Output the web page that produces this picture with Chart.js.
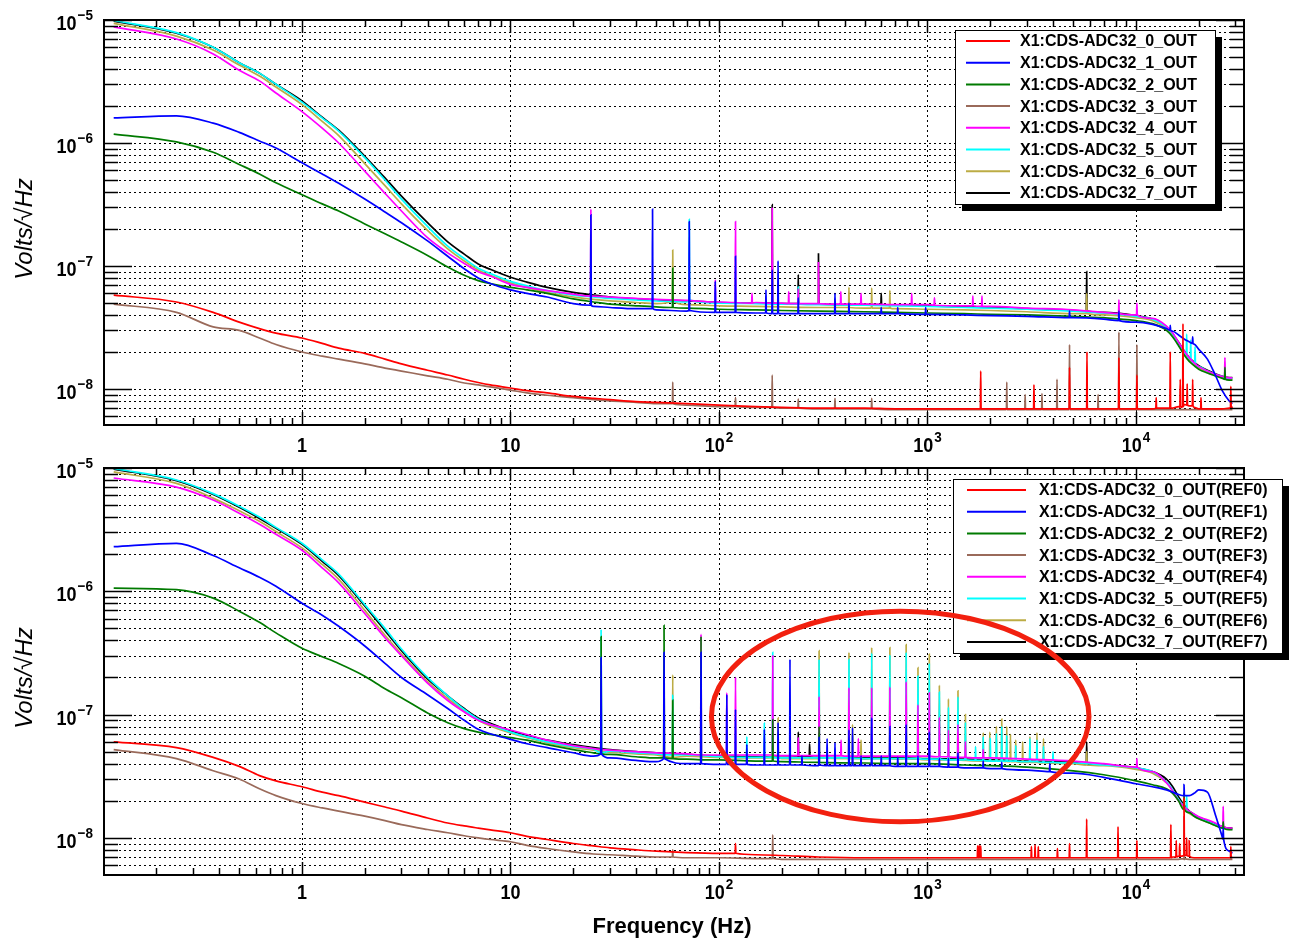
<!DOCTYPE html>
<html>
<head>
<meta charset="utf-8">
<script src="https://cdn.jsdelivr.net/npm/chart.js@4.4.1/dist/chart.umd.min.js"></script>
<style>
  body { margin: 0; background: #fff; }
  #wrap { position: relative; width: 1298px; height: 940px; }
  canvas { position: absolute; left: 0; }
</style>
</head>
<body>
<div id="wrap">
  <canvas id="topChart" width="1298" height="455" style="top:0px"></canvas>
  <canvas id="bottomChart" width="1298" height="485" style="top:455px"></canvas>
</div>
<script>
// frequency grid (Hz) shared by every base curve
const freqHz = [
  0.125, 0.25, 0.375, 0.5, 0.625, 0.75,
  1, 1.25, 1.5, 2, 2.5, 3,
  4, 5, 6, 7, 8,
  10, 12, 15, 20, 25, 30,
  40, 50, 70,
  100, 150, 200, 300, 500, 700,
  1000, 1500, 2000, 3000, 5000, 7000,
  10000, 12000, 14000, 15000, 16000, 17000, 18000, 19000, 20000,
  22000, 24000, 26000, 28000, 29000
];

const channelNames = [
  'X1:CDS-ADC32_0_OUT', 'X1:CDS-ADC32_1_OUT', 'X1:CDS-ADC32_2_OUT', 'X1:CDS-ADC32_3_OUT',
  'X1:CDS-ADC32_4_OUT', 'X1:CDS-ADC32_5_OUT', 'X1:CDS-ADC32_6_OUT', 'X1:CDS-ADC32_7_OUT'
];
const refNames = [
  'X1:CDS-ADC32_0_OUT(REF0)', 'X1:CDS-ADC32_1_OUT(REF1)', 'X1:CDS-ADC32_2_OUT(REF2)', 'X1:CDS-ADC32_3_OUT(REF3)',
  'X1:CDS-ADC32_4_OUT(REF4)', 'X1:CDS-ADC32_5_OUT(REF5)', 'X1:CDS-ADC32_6_OUT(REF6)', 'X1:CDS-ADC32_7_OUT(REF7)'
];
const channelColors = ['#ff0000', '#0000ff', '#007a00', '#9a6a5a', '#ff00ff', '#00ffff', '#bcac45', '#000000'];

const xDecades = [1, 10, 100, 1000, 10000];
const xTickBase = ['1', '10', '10', '10', '10'];
const xTickExp = ['', '', '2', '3', '4'];
const yDecades = [1e-5, 1e-6, 1e-7, 1e-8];
const yTickExp = ['\u22125', '\u22126', '\u22127', '\u22128'];

// ---- top panel: live channels ----
const topCh0 = [
  5.8e-8, 5.1e-8, 4.2e-8, 3.5e-8, 3.1e-8, 2.85e-8,
  2.6e-8, 2.35e-8, 2.15e-8, 1.95e-8, 1.75e-8, 1.6e-8,
  1.42e-8, 1.3e-8, 1.2e-8, 1.13e-8, 1.08e-8,
  1.02e-8, 9.7e-9, 9.3e-9, 8.7e-9, 8.4e-9, 8.2e-9,
  7.9e-9, 7.8e-9, 7.6e-9,
  7.4e-9, 7.2e-9, 7.1e-9, 7.0e-9, 7.0e-9, 6.9e-9,
  6.9e-9, 6.9e-9, 6.9e-9, 6.9e-9, 6.9e-9, 6.9e-9,
  6.9e-9, 6.9e-9, 7.0e-9, 7.0e-9, 7.2e-9, 7.5e-9, 7.3e-9, 7.1e-9, 6.9e-9,
  6.9e-9, 6.9e-9, 6.9e-9, 7.0e-9, 7.2e-9
];
const topCh1 = [
  1.6e-6, 1.66e-6, 1.45e-6, 1.22e-6, 1.04e-6, 9.1e-7,
  6.9e-7, 5.6e-7, 4.7e-7, 3.5e-7, 2.75e-7, 2.25e-7,
  1.6e-7, 1.2e-7, 9.5e-8, 8.0e-8, 7.2e-8,
  6.4e-8, 6.0e-8, 5.6e-8, 4.95e-8, 4.7e-8, 4.6e-8,
  4.5e-8, 4.4e-8, 4.3e-8,
  4.2e-8, 4.15e-8, 4.1e-8, 4.1e-8, 4.1e-8, 4.1e-8,
  4.05e-8, 4.0e-8, 3.95e-8, 3.9e-8, 3.8e-8, 3.7e-8,
  3.5e-8, 3.35e-8, 3.1e-8, 2.95e-8, 2.75e-8, 2.55e-8, 2.42e-8, 2.32e-8, 2.1e-8,
  1.75e-8, 1.3e-8, 9.6e-9, 8.0e-9, 7.6e-9
];
const topCh2 = [
  1.18e-6, 1.02e-6, 8.4e-7, 6.7e-7, 5.6e-7, 4.75e-7,
  3.8e-7, 3.2e-7, 2.8e-7, 2.2e-7, 1.83e-7, 1.57e-7,
  1.22e-7, 9.8e-8, 8.4e-8, 7.6e-8, 7.2e-8,
  6.7e-8, 6.4e-8, 6.0e-8, 5.4e-8, 5.1e-8, 4.9e-8,
  4.75e-8, 4.65e-8, 4.55e-8,
  4.45e-8, 4.4e-8, 4.35e-8, 4.3e-8, 4.25e-8, 4.2e-8,
  4.15e-8, 4.1e-8, 4.05e-8, 4.0e-8, 3.9e-8, 3.8e-8,
  3.6e-8, 3.4e-8, 3.0e-8, 2.65e-8, 2.25e-8, 1.9e-8, 1.68e-8, 1.55e-8, 1.45e-8,
  1.35e-8, 1.28e-8, 1.22e-8, 1.18e-8, 1.18e-8
];
const topCh3 = [
  4.9e-8, 4.2e-8, 3.2e-8, 3.0e-8, 2.6e-8, 2.3e-8,
  2.0e-8, 1.85e-8, 1.75e-8, 1.6e-8, 1.48e-8, 1.4e-8,
  1.28e-8, 1.2e-8, 1.12e-8, 1.08e-8, 1.04e-8,
  9.8e-9, 9.3e-9, 8.9e-9, 8.5e-9, 8.2e-9, 8.0e-9,
  7.8e-9, 7.6e-9, 7.4e-9,
  7.2e-9, 7.1e-9, 7.0e-9, 6.9e-9, 6.9e-9, 6.8e-9,
  6.8e-9, 6.8e-9, 6.8e-9, 6.8e-9, 6.8e-9, 6.8e-9,
  6.8e-9, 6.8e-9, 6.8e-9, 6.8e-9, 6.8e-9, 6.8e-9, 6.8e-9, 6.8e-9, 6.8e-9,
  6.8e-9, 6.8e-9, 6.8e-9, 6.8e-9, 6.8e-9
];
const topCh4 = [
  8.8e-6, 7.0e-6, 5.3e-6, 3.9e-6, 3.2e-6, 2.55e-6,
  1.8e-6, 1.32e-6, 1.0e-6, 5.9e-7, 3.9e-7, 2.8e-7,
  1.7e-7, 1.28e-7, 1.05e-7, 9.0e-8, 8.3e-8,
  7.1e-8, 6.7e-8, 6.3e-8, 5.9e-8, 5.7e-8, 5.6e-8,
  5.45e-8, 5.35e-8, 5.25e-8,
  5.1e-8, 5.05e-8, 5.0e-8, 4.95e-8, 4.9e-8, 4.85e-8,
  4.85e-8, 4.75e-8, 4.7e-8, 4.55e-8, 4.4e-8, 4.2e-8,
  4.0e-8, 3.75e-8, 3.25e-8, 2.85e-8, 2.4e-8, 2.05e-8, 1.8e-8, 1.63e-8, 1.52e-8,
  1.4e-8, 1.32e-8, 1.26e-8, 1.23e-8, 1.23e-8
];
const topCh5 = [
  9.9e-6, 7.9e-6, 6.0e-6, 4.5e-6, 3.7e-6, 3.0e-6,
  2.15e-6, 1.6e-6, 1.25e-6, 7.6e-7, 5.0e-7, 3.5e-7,
  2.1e-7, 1.45e-7, 1.15e-7, 9.6e-8, 8.7e-8,
  7.5e-8, 6.9e-8, 6.3e-8, 5.8e-8, 5.6e-8, 5.45e-8,
  5.3e-8, 5.2e-8, 5.1e-8,
  5.0e-8, 4.95e-8, 4.9e-8, 4.85e-8, 4.8e-8, 4.75e-8,
  4.7e-8, 4.6e-8, 4.55e-8, 4.45e-8, 4.3e-8, 4.15e-8,
  3.9e-8, 3.7e-8, 3.2e-8, 2.8e-8, 2.35e-8, 2.0e-8, 1.78e-8, 1.62e-8, 1.52e-8,
  1.4e-8, 1.32e-8, 1.26e-8, 1.22e-8, 1.22e-8
];
const topCh6 = [
  9.4e-6, 7.4e-6, 5.7e-6, 4.3e-6, 3.5e-6, 2.85e-6,
  2.05e-6, 1.5e-6, 1.15e-6, 6.8e-7, 4.5e-7, 3.2e-7,
  1.95e-7, 1.38e-7, 1.1e-7, 9.3e-8, 8.4e-8,
  7.3e-8, 6.7e-8, 6.1e-8, 5.6e-8, 5.35e-8, 5.2e-8,
  5.05e-8, 4.95e-8, 4.85e-8,
  4.75e-8, 4.7e-8, 4.65e-8, 4.6e-8, 4.55e-8, 4.5e-8,
  4.45e-8, 4.4e-8, 4.35e-8, 4.25e-8, 4.1e-8, 4.0e-8,
  3.8e-8, 3.6e-8, 3.1e-8, 2.7e-8, 2.3e-8, 1.95e-8, 1.72e-8, 1.58e-8, 1.48e-8,
  1.37e-8, 1.3e-8, 1.24e-8, 1.2e-8, 1.2e-8
];
const topCh7 = [
  9.8e-6, 7.8e-6, 6.0e-6, 4.5e-6, 3.7e-6, 3.0e-6,
  2.2e-6, 1.62e-6, 1.27e-6, 7.8e-7, 5.2e-7, 3.7e-7,
  2.25e-7, 1.57e-7, 1.25e-7, 1.04e-7, 9.4e-8,
  8.1e-8, 7.4e-8, 6.7e-8, 6.1e-8, 5.8e-8, 5.6e-8,
  5.4e-8, 5.3e-8, 5.2e-8,
  5.05e-8, 5.0e-8, 4.95e-8, 4.9e-8, 4.85e-8, 4.8e-8,
  4.75e-8, 4.65e-8, 4.6e-8, 4.5e-8, 4.35e-8, 4.2e-8,
  3.95e-8, 3.7e-8, 3.2e-8, 2.8e-8, 2.4e-8, 2.05e-8, 1.8e-8, 1.65e-8, 1.55e-8,
  1.42e-8, 1.33e-8, 1.27e-8, 1.24e-8, 1.24e-8
];

// spikes: [frequency, foot level, peak level]
const topSpikes0 = [
  [1800, 6.9e-9, 1.4e-8], [3240, 6.9e-9, 1.08e-8], [4800, 6.9e-9, 1.5e-8], [5820, 6.9e-9, 2.0e-8],
  [8280, 6.9e-9, 1.8e-8], [10100, 6.9e-9, 1.3e-8], [12500, 7.0e-9, 8.5e-9], [14600, 7.0e-9, 2.0e-8],
  [16300, 7.1e-9, 1.2e-8], [16800, 7.2e-9, 3.4e-8], [17600, 7.4e-9, 1.1e-8], [18700, 7.3e-9, 1.2e-8],
  [20500, 6.9e-9, 8.5e-9], [28500, 7.0e-9, 1.05e-8]
];
const topSpikes1 = [
  [24.3, 4.8e-8, 2.6e-7], [48, 4.5e-8, 2.9e-7], [72, 4.35e-8, 2.3e-7], [96, 4.2e-8, 7.5e-8],
  [120, 4.2e-8, 1.2e-7], [168, 4.15e-8, 6.4e-8], [180, 4.1e-8, 9.3e-8], [192, 4.1e-8, 1.1e-7],
  [240, 4.1e-8, 5.5e-8], [360, 4.1e-8, 6.0e-8], [420, 4.1e-8, 5.0e-8], [600, 4.1e-8, 4.6e-8],
  [720, 4.1e-8, 4.6e-8], [980, 4.05e-8, 4.6e-8], [4800, 3.8e-8, 4.3e-8], [8280, 3.6e-8, 4.3e-8],
  [14600, 3.0e-8, 3.3e-8], [18700, 2.35e-8, 2.65e-8]
];
const topSpikes2 = [[60, 4.6e-8, 9.6e-8], [26700, 1.2e-8, 1.5e-8]];
const topSpikes3 = [
  [60, 7.6e-9, 1.14e-8], [120, 7.2e-9, 8.5e-9], [180, 7.1e-9, 1.3e-8], [240, 7.0e-9, 8.3e-9],
  [360, 6.9e-9, 8.4e-9], [540, 6.9e-9, 8.4e-9], [2400, 6.8e-9, 1.14e-8], [2940, 6.8e-9, 9.0e-9],
  [3540, 6.8e-9, 9.2e-9], [4180, 6.8e-9, 1.2e-8], [4800, 6.8e-9, 2.3e-8], [6580, 6.8e-9, 9.0e-9],
  [8280, 6.8e-9, 2.9e-8], [10100, 6.8e-9, 2.3e-8]
];
const topSpikes4 = [
  [24.3, 5.7e-8, 2.9e-7], [96, 5.1e-8, 7.7e-8], [120, 5.05e-8, 2.3e-7], [144, 5.0e-8, 6.0e-8],
  [180, 5.0e-8, 3.0e-7], [216, 4.95e-8, 6.2e-8], [240, 4.95e-8, 6.5e-8], [300, 4.95e-8, 1.08e-7],
  [384, 4.9e-8, 6.2e-8], [480, 4.9e-8, 6.0e-8], [840, 4.85e-8, 6.0e-8], [1080, 4.8e-8, 5.5e-8],
  [1650, 4.75e-8, 5.7e-8], [1825, 4.7e-8, 5.7e-8], [8280, 4.1e-8, 5.3e-8], [10100, 4.0e-8, 5.0e-8],
  [26700, 1.26e-8, 1.8e-8]
];
const topSpikes5 = [
  [72, 5.3e-8, 2.4e-7], [240, 4.9e-8, 6.8e-8], [17500, 1.9e-8, 2.8e-8], [18300, 1.75e-8, 2.5e-8],
  [19200, 1.62e-8, 2.2e-8]
];
const topSpikes6 = [
  [60, 5.2e-8, 1.35e-7], [420, 4.6e-8, 6.7e-8], [540, 4.55e-8, 6.6e-8], [660, 4.55e-8, 6.3e-8],
  [5800, 4.1e-8, 6.0e-8]
];
const topSpikes7 = [
  [180, 5.0e-8, 3.15e-7], [240, 4.95e-8, 8.5e-8], [300, 4.9e-8, 1.27e-7], [600, 4.85e-8, 6.0e-8],
  [5800, 4.3e-8, 9.0e-8]
];

// ---- bottom panel: reference traces ----
const botCh0 = [
  6.0e-8, 5.4e-8, 4.5e-8, 3.8e-8, 3.2e-8, 2.9e-8,
  2.6e-8, 2.35e-8, 2.2e-8, 1.95e-8, 1.78e-8, 1.65e-8,
  1.45e-8, 1.32e-8, 1.25e-8, 1.2e-8, 1.16e-8,
  1.1e-8, 1.03e-8, 9.7e-9, 9.0e-9, 8.6e-9, 8.3e-9,
  8.0e-9, 7.8e-9, 7.6e-9,
  7.5e-9, 7.3e-9, 7.2e-9, 7.0e-9, 6.9e-9, 6.9e-9,
  6.9e-9, 6.9e-9, 6.9e-9, 6.9e-9, 6.9e-9, 6.9e-9,
  6.9e-9, 6.9e-9, 6.9e-9, 7.0e-9, 7.1e-9, 7.3e-9, 7.1e-9, 6.9e-9, 6.9e-9,
  6.9e-9, 6.9e-9, 6.9e-9, 6.9e-9, 7.0e-9
];
const botCh1 = [
  2.3e-6, 2.45e-6, 1.95e-6, 1.55e-6, 1.3e-6, 1.1e-6,
  8.0e-7, 6.4e-7, 5.2e-7, 3.6e-7, 2.6e-7, 2.0e-7,
  1.45e-7, 1.12e-7, 9.0e-8, 7.6e-8, 7.0e-8,
  6.3e-8, 5.8e-8, 5.4e-8, 4.9e-8, 4.6e-8, 4.45e-8,
  4.25e-8, 4.15e-8, 4.0e-8,
  3.95e-8, 3.9e-8, 3.9e-8, 3.85e-8, 3.85e-8, 3.8e-8,
  3.8e-8, 3.7e-8, 3.65e-8, 3.55e-8, 3.35e-8, 3.1e-8,
  2.75e-8, 2.6e-8, 2.45e-8, 2.35e-8, 2.25e-8, 2.2e-8, 2.2e-8, 2.3e-8, 2.45e-8,
  2.35e-8, 1.55e-8, 1.0e-8, 7.8e-9, 7.5e-9
];
const botCh2 = [
  1.06e-6, 1.03e-6, 8.8e-7, 6.9e-7, 5.6e-7, 4.6e-7,
  3.45e-7, 2.95e-7, 2.6e-7, 2.05e-7, 1.62e-7, 1.37e-7,
  1.03e-7, 8.6e-8, 7.7e-8, 7.2e-8, 6.9e-8,
  6.5e-8, 6.2e-8, 5.7e-8, 5.2e-8, 4.9e-8, 4.75e-8,
  4.55e-8, 4.45e-8, 4.35e-8,
  4.3e-8, 4.2e-8, 4.15e-8, 4.1e-8, 4.05e-8, 4.0e-8,
  4.0e-8, 3.9e-8, 3.85e-8, 3.75e-8, 3.5e-8, 3.25e-8,
  2.9e-8, 2.7e-8, 2.5e-8, 2.3e-8, 2.0e-8, 1.78e-8, 1.6e-8, 1.5e-8, 1.43e-8,
  1.34e-8, 1.26e-8, 1.2e-8, 1.17e-8, 1.17e-8
];
const botCh3 = [
  5.2e-8, 4.4e-8, 3.5e-8, 3.0e-8, 2.5e-8, 2.2e-8,
  1.9e-8, 1.75e-8, 1.65e-8, 1.5e-8, 1.38e-8, 1.28e-8,
  1.17e-8, 1.1e-8, 1.04e-8, 1.0e-8, 9.7e-9,
  9.3e-9, 8.7e-9, 8.2e-9, 7.7e-9, 7.4e-9, 7.3e-9,
  7.1e-9, 7.0e-9, 6.9e-9,
  6.9e-9, 6.8e-9, 6.7e-9, 6.7e-9, 6.7e-9, 6.7e-9,
  6.7e-9, 6.7e-9, 6.7e-9, 6.7e-9, 6.7e-9, 6.7e-9,
  6.7e-9, 6.7e-9, 6.7e-9, 6.7e-9, 6.7e-9, 6.7e-9, 6.7e-9, 6.7e-9, 6.7e-9,
  6.7e-9, 6.7e-9, 6.7e-9, 6.7e-9, 6.7e-9
];
const botCh4 = [
  8.3e-6, 7.0e-6, 5.5e-6, 4.3e-6, 3.5e-6, 2.9e-6,
  2.15e-6, 1.55e-6, 1.17e-6, 6.6e-7, 4.2e-7, 3.0e-7,
  1.8e-7, 1.3e-7, 1.05e-7, 9.0e-8, 8.3e-8,
  7.5e-8, 6.9e-8, 6.2e-8, 5.6e-8, 5.3e-8, 5.15e-8,
  5.0e-8, 4.9e-8, 4.8e-8,
  4.7e-8, 4.7e-8, 4.65e-8, 4.65e-8, 4.6e-8, 4.6e-8,
  4.6e-8, 4.5e-8, 4.45e-8, 4.35e-8, 4.2e-8, 4.0e-8,
  3.75e-8, 3.45e-8, 2.8e-8, 2.4e-8, 2.0e-8, 1.8e-8, 1.65e-8, 1.56e-8, 1.48e-8,
  1.4e-8, 1.32e-8, 1.24e-8, 1.2e-8, 1.2e-8
];
const botCh5 = [
  9.9e-6, 8.0e-6, 6.2e-6, 4.9e-6, 4.0e-6, 3.3e-6,
  2.45e-6, 1.8e-6, 1.38e-6, 7.8e-7, 5.0e-7, 3.4e-7,
  2.0e-7, 1.42e-7, 1.1e-7, 9.2e-8, 8.3e-8,
  7.2e-8, 6.6e-8, 6.0e-8, 5.5e-8, 5.25e-8, 5.05e-8,
  4.9e-8, 4.8e-8, 4.7e-8,
  4.55e-8, 4.5e-8, 4.45e-8, 4.45e-8, 4.4e-8, 4.4e-8,
  4.35e-8, 4.3e-8, 4.25e-8, 4.15e-8, 4.05e-8, 3.9e-8,
  3.7e-8, 3.45e-8, 2.85e-8, 2.45e-8, 2.05e-8, 1.8e-8, 1.62e-8, 1.52e-8, 1.45e-8,
  1.36e-8, 1.28e-8, 1.21e-8, 1.17e-8, 1.17e-8
];
const botCh6 = [
  9.3e-6, 7.5e-6, 5.7e-6, 4.5e-6, 3.7e-6, 3.05e-6,
  2.25e-6, 1.65e-6, 1.25e-6, 7.0e-7, 4.4e-7, 3.1e-7,
  1.85e-7, 1.35e-7, 1.07e-7, 9.0e-8, 8.1e-8,
  7.1e-8, 6.5e-8, 5.9e-8, 5.4e-8, 5.15e-8, 4.95e-8,
  4.8e-8, 4.7e-8, 4.6e-8,
  4.5e-8, 4.45e-8, 4.4e-8, 4.4e-8, 4.35e-8, 4.35e-8,
  4.3e-8, 4.25e-8, 4.2e-8, 4.1e-8, 4.0e-8, 3.85e-8,
  3.6e-8, 3.35e-8, 2.8e-8, 2.4e-8, 2.0e-8, 1.75e-8, 1.58e-8, 1.5e-8, 1.43e-8,
  1.34e-8, 1.26e-8, 1.2e-8, 1.16e-8, 1.16e-8
];
const botCh7 = [
  9.8e-6, 7.9e-6, 6.1e-6, 4.8e-6, 3.9e-6, 3.25e-6,
  2.4e-6, 1.75e-6, 1.34e-6, 7.6e-7, 4.8e-7, 3.3e-7,
  1.95e-7, 1.42e-7, 1.12e-7, 9.4e-8, 8.5e-8,
  7.4e-8, 6.8e-8, 6.2e-8, 5.7e-8, 5.4e-8, 5.2e-8,
  5.0e-8, 4.9e-8, 4.75e-8,
  4.6e-8, 4.55e-8, 4.5e-8, 4.5e-8, 4.45e-8, 4.45e-8,
  4.4e-8, 4.35e-8, 4.3e-8, 4.2e-8, 4.1e-8, 3.9e-8,
  3.7e-8, 3.45e-8, 3.0e-8, 2.6e-8, 2.15e-8, 1.85e-8, 1.65e-8, 1.55e-8, 1.47e-8,
  1.38e-8, 1.3e-8, 1.23e-8, 1.2e-8, 1.2e-8
];

const botSpikes0 = [
  [120, 7.5e-9, 9.0e-9], [1740, 6.9e-9, 8.6e-9], [1770, 6.9e-9, 8.7e-9], [1800, 6.9e-9, 8.6e-9],
  [3150, 6.9e-9, 8.5e-9], [3280, 6.9e-9, 8.8e-9], [3400, 6.9e-9, 8.5e-9], [4200, 6.9e-9, 8.2e-9],
  [4800, 6.9e-9, 9.0e-9], [5800, 6.9e-9, 1.42e-8], [8200, 6.9e-9, 1.23e-8], [10100, 6.9e-9, 9.5e-9],
  [14700, 6.9e-9, 1.28e-8], [15600, 7.0e-9, 9.5e-9], [16200, 7.1e-9, 9.0e-9], [17000, 7.2e-9, 2.1e-8],
  [17500, 7.2e-9, 1.0e-8], [18000, 7.1e-9, 9.5e-9], [28500, 6.9e-9, 8.5e-9]
];
const botSpikes1 = [
  [27.2, 4.8e-8, 2.9e-7], [54.5, 4.4e-8, 3.2e-7], [82, 4.0e-8, 3.2e-7], [109, 3.95e-8, 1.45e-7],
  [120, 3.95e-8, 1.1e-7], [136, 3.95e-8, 5.7e-8], [165, 3.9e-8, 7.6e-8], [192, 3.9e-8, 8.6e-8],
  [219, 3.9e-8, 2.8e-7], [250, 3.9e-8, 4.6e-8], [302, 3.9e-8, 6.6e-8], [330, 3.85e-8, 6.4e-8],
  [360, 3.85e-8, 5.9e-8], [420, 3.85e-8, 7.5e-8], [437, 3.85e-8, 7.8e-8], [480, 3.85e-8, 4.6e-8],
  [540, 3.85e-8, 9.4e-8], [600, 3.85e-8, 4.6e-8], [660, 3.85e-8, 8.0e-8], [720, 3.8e-8, 4.5e-8],
  [790, 3.8e-8, 8.3e-8], [900, 3.8e-8, 4.6e-8], [1020, 3.8e-8, 7.2e-8], [1140, 3.8e-8, 4.4e-8],
  [1260, 3.75e-8, 4.4e-8], [1400, 3.75e-8, 4.9e-8], [1850, 3.7e-8, 4.2e-8], [2270, 3.65e-8, 4.1e-8],
  [3860, 3.45e-8, 4.0e-8], [17000, 2.2e-8, 2.7e-8], [26200, 9.8e-9, 1.2e-8]
];
const botSpikes2 = [
  [27.2, 4.8e-8, 4.3e-7], [54.5, 4.45e-8, 5.3e-7], [60, 4.4e-8, 1.31e-7], [82, 4.3e-8, 4.3e-7],
  [181, 4.2e-8, 9.1e-8], [302, 4.1e-8, 8.0e-8], [17000, 1.7e-8, 2.3e-8], [26200, 1.2e-8, 1.35e-8]
];
const botSpikes3 = [[60, 7.0e-9, 8.0e-9], [181, 6.8e-9, 1.06e-8], [17000, 6.8e-9, 1.5e-8]];
const botSpikes4 = [
  [82, 4.7e-8, 4.5e-7], [109, 4.7e-8, 1.5e-7], [120, 4.7e-8, 2.0e-7], [181, 4.7e-8, 3.0e-7],
  [240, 4.65e-8, 6.5e-8], [302, 4.65e-8, 1.4e-7], [385, 4.65e-8, 6.2e-8], [420, 4.6e-8, 1.65e-7],
  [466, 4.6e-8, 6.4e-8], [540, 4.6e-8, 1.65e-7], [660, 4.6e-8, 1.67e-7], [790, 4.6e-8, 1.84e-7],
  [900, 4.6e-8, 1.2e-7], [1020, 4.6e-8, 1.5e-7], [1140, 4.55e-8, 9.5e-8], [1260, 4.55e-8, 7.5e-8],
  [1400, 4.5e-8, 8.3e-8], [1520, 4.5e-8, 6.0e-8], [1850, 4.45e-8, 5.2e-8], [10100, 3.75e-8, 4.4e-8],
  [26200, 1.24e-8, 1.8e-8]
];
const botSpikes5 = [
  [27.2, 4.9e-8, 4.9e-7], [60, 4.7e-8, 1.45e-7], [136, 4.5e-8, 6.6e-8], [165, 4.5e-8, 8.6e-8],
  [181, 4.5e-8, 3.2e-7], [302, 4.45e-8, 2.8e-7], [420, 4.45e-8, 2.8e-7], [540, 4.4e-8, 3.15e-7],
  [660, 4.4e-8, 3.05e-7], [790, 4.4e-8, 3.2e-7], [900, 4.4e-8, 2.05e-7], [1020, 4.35e-8, 2.6e-7],
  [1140, 4.35e-8, 1.52e-7], [1260, 4.3e-8, 1.15e-7], [1400, 4.3e-8, 1.39e-7], [1520, 4.3e-8, 8.6e-8],
  [1700, 4.25e-8, 5.5e-8], [1850, 4.25e-8, 6.6e-8], [2000, 4.2e-8, 6.4e-8], [2140, 4.2e-8, 7.0e-8],
  [2270, 4.2e-8, 8.0e-8], [2400, 4.2e-8, 6.8e-8], [2650, 4.2e-8, 5.6e-8], [3100, 4.15e-8, 6.4e-8],
  [3350, 4.15e-8, 6.2e-8], [3600, 4.1e-8, 5.5e-8], [4000, 4.1e-8, 5.0e-8], [17500, 1.7e-8, 2.2e-8]
];
const botSpikes6 = [
  [60, 4.5e-8, 2.1e-7], [192, 4.5e-8, 9.4e-8], [302, 4.45e-8, 3.3e-7], [420, 4.4e-8, 3.2e-7],
  [437, 4.4e-8, 8.3e-8], [480, 4.4e-8, 6.2e-8], [540, 4.4e-8, 3.5e-7], [660, 4.4e-8, 3.5e-7],
  [790, 4.4e-8, 3.7e-7], [900, 4.35e-8, 2.4e-7], [1020, 4.35e-8, 3.1e-7], [1140, 4.3e-8, 1.73e-7],
  [1260, 4.3e-8, 1.34e-7], [1400, 4.3e-8, 1.56e-7], [1520, 4.25e-8, 1.0e-7], [1850, 4.2e-8, 7.1e-8],
  [1990, 4.2e-8, 7.2e-8], [2140, 4.2e-8, 8.0e-8], [2270, 4.2e-8, 9.2e-8], [2400, 4.15e-8, 8.0e-8],
  [2500, 4.15e-8, 6.9e-8], [2650, 4.15e-8, 6.2e-8], [2860, 4.1e-8, 6.0e-8], [3100, 4.1e-8, 6.6e-8],
  [3350, 4.1e-8, 7.1e-8], [3600, 4.05e-8, 6.4e-8], [5800, 3.9e-8, 5.0e-8]
];
const botSpikes7 = [[240, 4.55e-8, 7.2e-8], [272, 4.55e-8, 5.8e-8], [5800, 3.95e-8, 6.0e-8]];

const topSeries = [topCh0, topCh1, topCh2, topCh3, topCh4, topCh5, topCh6, topCh7];
const topSpikes = [topSpikes0, topSpikes1, topSpikes2, topSpikes3, topSpikes4, topSpikes5, topSpikes6, topSpikes7];
const botSeries = [botCh0, botCh1, botCh2, botCh3, botCh4, botCh5, botCh6, botCh7];
const botSpikes = [botSpikes0, botSpikes1, botSpikes2, botSpikes3, botSpikes4, botSpikes5, botSpikes6, botSpikes7];

const FONT = '"Liberation Sans", Arial, Helvetica, sans-serif';
const SX = 0.9;

function buildPoints(base, spikes) {
    const pts = freqHz.map((f, i) => ({ x: f, y: base[i] }));
    spikes.forEach(([f, foot, peak]) => {
        pts.push({ x: f * 0.996, y: foot }, { x: f, y: peak }, { x: f * 1.004, y: foot });
    });
    return pts.sort((a, b) => a.x - b.x);
}

function makeDatasets(series, spikes, labels) {
    return series.map((vals, i) => ({
        label: labels[i],
        data: buildPoints(vals, spikes[i]),
        borderColor: channelColors[i],
        borderWidth: 1.7,
        pointRadius: 0,
        fill: false,
        cubicInterpolationMode: 'monotone'
    }));
}

function lineAt(ctx, x1, y1, x2, y2) {
    ctx.beginPath();
    ctx.moveTo(x1, y1);
    ctx.lineTo(x2, y2);
    ctx.stroke();
}

function minorValues(lo, hi) {
    const out = [];
    for (let e = -10; e <= 5; e++) {
        for (let m = 2; m <= 9; m++) {
            const v = m * Math.pow(10, e);
            if (v > lo * 1.0001 && v < hi * 0.9999) out.push(v);
        }
    }
    return out;
}

function drawPower(ctx, x, y, base, exp, align) {
    const bf = 'bold 20px ' + FONT;
    const ef = 'bold 15px ' + FONT;
    ctx.font = bf;
    const wb = ctx.measureText(base).width * SX;
    ctx.font = ef;
    const we = exp ? ctx.measureText(exp).width * SX + 1 : 0;
    const left = align === 'right' ? x - wb - we : x - (wb + we) / 2;
    ctx.save();
    ctx.translate(left, y);
    ctx.scale(SX, 1);
    ctx.textAlign = 'left';
    ctx.textBaseline = 'alphabetic';
    ctx.font = bf;
    ctx.fillText(base, 0, 0);
    if (exp) {
        ctx.font = ef;
        ctx.fillText(exp, (wb + 1) / SX, -10);
    }
    ctx.restore();
}

const rootStyle = {
    id: 'rootStyle',
    beforeDatasetsDraw(chart) {
        const { ctx, chartArea: a, scales: { x, y } } = chart;
        ctx.save();
        ctx.strokeStyle = '#000';
        ctx.lineWidth = 1;
        ctx.setLineDash([2, 3]);
        xDecades.forEach(v => {
            const px = Math.round(x.getPixelForValue(v)) + 0.5;
            lineAt(ctx, px, a.top, px, a.bottom);
        });
        yDecades.concat(minorValues(y.min, y.max)).forEach(v => {
            const py = Math.round(y.getPixelForValue(v)) + 0.5;
            lineAt(ctx, a.left, py, a.right, py);
        });
        ctx.restore();
    },
    afterDatasetsDraw(chart, args, o) {
        const { ctx, chartArea: a, scales: { x, y } } = chart;
        ctx.save();
        ctx.strokeStyle = '#000';
        ctx.setLineDash([]);

        // ticks drawn inside the frame
        ctx.lineWidth = 1.5;
        yDecades.forEach(v => {
            const py = Math.round(y.getPixelForValue(v)) + 0.5;
            lineAt(ctx, a.left, py, a.left + 28, py);
            lineAt(ctx, a.right - 28, py, a.right, py);
        });
        minorValues(y.min, y.max).forEach(v => {
            const py = Math.round(y.getPixelForValue(v)) + 0.5;
            lineAt(ctx, a.left, py, a.left + 14, py);
            lineAt(ctx, a.right - 14, py, a.right, py);
        });
        xDecades.forEach(v => {
            const px = Math.round(x.getPixelForValue(v)) + 0.5;
            lineAt(ctx, px, a.bottom, px, a.bottom - 13);
            lineAt(ctx, px, a.top, px, a.top + 13);
        });
        minorValues(x.min, x.max).forEach(v => {
            const px = Math.round(x.getPixelForValue(v)) + 0.5;
            lineAt(ctx, px, a.bottom, px, a.bottom - 7);
            lineAt(ctx, px, a.top, px, a.top + 7);
        });

        // frame
        ctx.lineWidth = 2;
        ctx.strokeRect(a.left, a.top, a.right - a.left, a.bottom - a.top);

        // tick labels
        ctx.fillStyle = '#000';
        yDecades.forEach((v, i) => {
            drawPower(ctx, 93, y.getPixelForValue(v) + 10, '10', yTickExp[i], 'right');
        });
        xDecades.forEach((v, i) => {
            drawPower(ctx, x.getPixelForValue(v), o.xLabelY, xTickBase[i], xTickExp[i], 'center');
        });

        // y title
        ctx.save();
        ctx.translate(32, o.yTitleY);
        ctx.rotate(-Math.PI / 2);
        ctx.font = 'italic 24px ' + FONT;
        ctx.textAlign = 'center';
        ctx.textBaseline = 'alphabetic';
        ctx.fillText('Volts/\u221AHz', 0, 0);
        ctx.restore();

        // x title
        if (o.xTitle) {
            ctx.font = 'bold 22px ' + FONT;
            ctx.textAlign = 'center';
            ctx.textBaseline = 'alphabetic';
            ctx.fillText(o.xTitle, (a.left + a.right) / 2 - 2, o.xTitleY);
        }

        // legend box with drop shadow
        const L = o.legend;
        ctx.fillStyle = '#000';
        ctx.fillRect(L.x + 7, L.y + 7, L.w, L.h);
        ctx.fillStyle = '#fff';
        ctx.fillRect(L.x, L.y, L.w, L.h);
        ctx.lineWidth = 1;
        ctx.strokeRect(L.x + 0.5, L.y + 0.5, L.w, L.h);
        ctx.font = 'bold 16px ' + FONT;
        ctx.textAlign = 'left';
        ctx.textBaseline = 'middle';
        chart.data.datasets.forEach((ds, i) => {
            const ry = L.y + 11 + i * 21.7;
            ctx.strokeStyle = ds.borderColor;
            ctx.lineWidth = 2;
            lineAt(ctx, L.x + L.s0, ry, L.x + L.s1, ry);
            ctx.fillStyle = '#000';
            ctx.fillText(ds.label, L.x + L.tx, ry + 1);
        });

        // highlight ellipse (bottom panel)
        if (o.ellipse) {
            const e = o.ellipse;
            const x1 = x.getPixelForValue(e.f0), x2 = x.getPixelForValue(e.f1);
            const y1 = y.getPixelForValue(e.v1), y2 = y.getPixelForValue(e.v0);
            ctx.beginPath();
            ctx.ellipse((x1 + x2) / 2, (y1 + y2) / 2, (x2 - x1) / 2, (y2 - y1) / 2, 0, 0, Math.PI * 2);
            ctx.strokeStyle = '#f2200f';
            ctx.lineWidth = 5;
            ctx.stroke();
        }
        ctx.restore();
    }
};

function makeChart(id, series, spikes, labels, yMin, pad, xHeight, pluginOpts) {
    return new Chart(document.getElementById(id), {
        type: 'line',
        data: { datasets: makeDatasets(series, spikes, labels) },
        options: {
            responsive: false,
            animation: false,
            devicePixelRatio: 1,
            layout: { padding: { top: pad, right: 54, left: 0, bottom: 0 } },
            plugins: {
                legend: { display: false },
                tooltip: { enabled: false },
                rootStyle: pluginOpts
            },
            scales: {
                x: {
                    type: 'logarithmic',
                    min: 0.1123,
                    max: 32960,
                    grid: { display: false },
                    border: { display: false },
                    ticks: { display: false },
                    afterFit: s => { s.height = xHeight; }
                },
                y: {
                    type: 'logarithmic',
                    min: yMin,
                    max: 1e-5,
                    grid: { display: false },
                    border: { display: false },
                    ticks: { display: false },
                    afterFit: s => { s.width = 104; }
                }
            }
        },
        plugins: [rootStyle]
    });
}

makeChart('topChart', topSeries, topSpikes, channelNames, 5.1e-9, 20, 30, {
    xLabelY: 452,
    yTitleY: 229,
    legend: { x: 955, y: 30, w: 260, h: 174, s0: 11, s1: 55, tx: 65 }
});

makeChart('bottomChart', botSeries, botSpikes, refNames, 5.0e-9, 13, 65, {
    xLabelY: 444,
    yTitleY: 223,
    xTitle: 'Frequency (Hz)',
    xTitleY: 478,
    legend: { x: 953, y: 24, w: 329, h: 174, s0: 14, s1: 73, tx: 86 },
    ellipse: { f0: 92, f1: 5950, v0: 1.35e-8, v1: 6.9e-7 }
});
</script>
</body>
</html>
